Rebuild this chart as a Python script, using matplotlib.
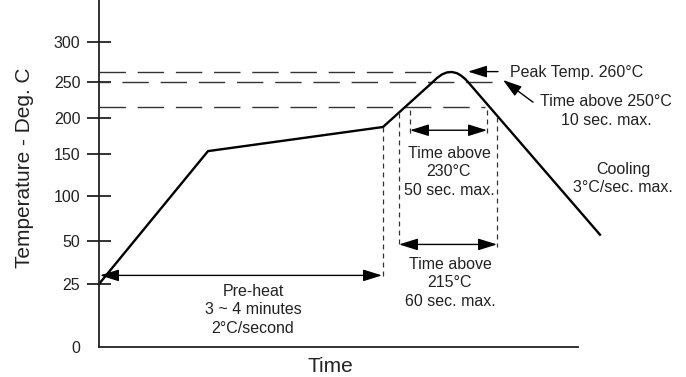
import matplotlib
matplotlib.use('Agg')
import matplotlib.pyplot as plt
import numpy as np

plt.rcParams['font.family'] = ['Liberation Sans', 'DejaVu Sans']

# reflow profile (time in arbitrary units, temperature in deg C)
t_prof = [0, 109, 284, 333, 338, 343, 348, 353, 358, 362, 366, 369, 501]
temp_prof = [25, 154, 187.5, 249, 255, 259.5, 262, 262.5, 261, 258, 254, 250, 57]

# reference levels
lvl_peak = 263
lvl_250 = 250
lvl_215 = 215

ytick_vals = [0, 25, 50, 100, 150, 200, 250, 300]
ytick_labels = ['0', '25', '50', '100', '150', '200', '250', '300']

# the drawing's y axis is not linear, map it piecewise
knot_v = [0, 25, 50, 100, 150, 200, 250, 300, 360]
knot_h = [0, 63, 106, 151, 193, 229, 265, 305, 353]


def fwd(v):
    return np.interp(v, knot_v, knot_h)


def inv(h):
    return np.interp(h, knot_h, knot_v)


fig = plt.figure(figsize=(6.86, 3.77), dpi=100)
ax = fig.add_axes([99 / 686, 30 / 377, 501 / 686, 347 / 377])
ax.set_yscale('function', functions=(fwd, inv))
ax.set_xlim(0, 501)
ax.set_ylim(0, 352.5)

dark = '#222222'
for s in ['top', 'right']:
    ax.spines[s].set_visible(False)
ax.spines['left'].set_color(dark)
ax.spines['bottom'].set_color(dark)
ax.spines['left'].set_linewidth(1.3)
ax.spines['bottom'].set_linewidth(1.3)
ax.spines['bottom'].set_bounds(0, 479)

ax.set_xticks([])
ax.set_yticks(ytick_vals)
ax.set_yticklabels(ytick_labels)
ax.yaxis.set_minor_locator(matplotlib.ticker.NullLocator())
ax.tick_params(axis='y', direction='inout', length=17, width=1.3, color=dark,
               labelsize=11.5, pad=5, labelcolor='#222222')
ax.yaxis.get_major_ticks()[0].tick1line.set_visible(False)

# dashed reference lines
ax.plot([0, 343], [lvl_peak, lvl_peak], color='#333333', lw=1, dashes=(19, 8.5))
ax.plot([0, 399], [lvl_250, lvl_250], color='#333333', lw=1,
        linestyle=(11, (19, 8.5)))
ax.plot([0, 386], [lvl_215, lvl_215], color='#333333', lw=1, dashes=(19, 8.5))

# profile curve
ax.plot(t_prof, temp_prof, color='black', lw=1.7, solid_joinstyle='round',
        clip_on=False)

# short dashed verticals
vd = dict(color='#333333', lw=0.9, dashes=(4, 3.2), clip_on=False)
ax.plot([284, 284], [187.5, 28], **vd)
ax.plot([300, 300], [207, 46.5], **vd)
ax.plot([398, 398], [201, 46.5], **vd)
ax.plot([311, 311], [211, 179], **vd)
ax.plot([388, 388], [211, 179], **vd)

arr2 = dict(arrowstyle='<|-|>,head_length=1.15,head_width=0.36', color='black',
            lw=1, mutation_scale=10, shrinkA=0, shrinkB=0)
arr1 = dict(arrowstyle='-|>,head_length=1.15,head_width=0.36', color='black',
            lw=1, mutation_scale=10, shrinkA=0, shrinkB=0)

ax.annotate('', xy=(283, 30), xytext=(1, 30), arrowprops=arr2, annotation_clip=False)
ax.annotate('', xy=(388, 183), xytext=(311, 183), arrowprops=arr2, annotation_clip=False)
ax.annotate('', xy=(398, 48), xytext=(300, 48), arrowprops=arr2, annotation_clip=False)
ax.annotate('', xy=(369, 263), xytext=(399, 263), arrowprops=arr1, annotation_clip=False)
ax.annotate('', xy=(404, 252.5), xytext=(434, 222), arrowprops=arr1, annotation_clip=False)

fs = 11.5
tk = dict(fontsize=fs, color='#222222', ha='center', va='center',
          linespacing=1.3, clip_on=False)
ax.text(154, 14.7, 'Pre-heat\n3 ~ 4 minutes\n2°C/second', **tk)
ax.text(350, 128.6, 'Time above\n230°C\n50 sec. max.', **tk)
ax.text(351, 25.6, 'Time above\n215°C\n60 sec. max.', **tk)
ax.text(524, 121, 'Cooling\n3°C/sec. max.', **tk)
ax.text(507, 210, 'Time above 250°C\n10 sec. max.', **tk)
ax.text(411, 262, 'Peak Temp. 260°C', fontsize=fs, color='#222222',
        ha='left', va='center', clip_on=False)

ax.set_ylabel('Temperature - Deg. C', fontsize=15, color='#222222', va='center')
ax.yaxis.set_label_coords(-0.148, 0.516)
ax.set_xlabel('Time', fontsize=15, color='#222222')
ax.xaxis.set_label_coords(0.461, -0.03)

plt.savefig('out.png', dpi=100)
